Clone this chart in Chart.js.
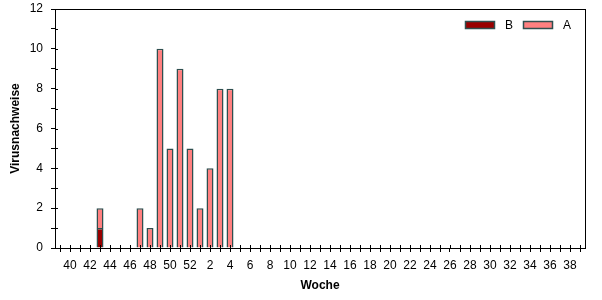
<!DOCTYPE html>
<html>
<head>
<meta charset="utf-8">
<script src="https://cdn.jsdelivr.net/npm/chart.js@4"></script>
<style>
  body { margin: 0; background: #fff; }
  canvas { display: block; }
</style>
</head>
<body>
<canvas id="chart" width="602" height="300"></canvas>
<script>
// Kalenderwochen 39 .. 52, 1 .. 39
const weeks = [39, 40, 41, 42, 43, 44, 45, 46, 47, 48, 49, 50, 51, 52,
    1, 2, 3, 4, 5, 6, 7, 8, 9, 10, 11, 12, 13, 14, 15, 16, 17, 18, 19, 20,
    21, 22, 23, 24, 25, 26, 27, 28, 29, 30, 31, 32, 33, 34, 35, 36, 37, 38, 39];

const seriesB = [null, null, null, null, 1, null, null, null, null, null, null, null, null, null,
    null, null, null, null, null, null, null, null, null, null, null, null, null, null, null, null,
    null, null, null, null, null, null, null, null, null, null, null, null, null, null, null, null,
    null, null, null, null, null, null, null];

const seriesA = [null, null, null, null, 1, null, null, null, 2, 1, 10, 5, 9, 5,
    2, 4, 8, 8, null, null, null, null, null, null, null, null, null, null, null, null,
    null, null, null, null, null, null, null, null, null, null, null, null, null, null, null, null,
    null, null, null, null, null, null, null];

const yTicks = [0, 2, 4, 6, 8, 10, 12];
const FONT = "'Liberation Sans', Arial, sans-serif";

// frame around plot and inward half of the tick marks
const frame = {
    id: "frame",
    afterDraw(chart) {
        const { ctx, chartArea: a, scales } = chart;
        ctx.save();
        ctx.strokeStyle = "#000";
        ctx.lineWidth = 1;
        ctx.strokeRect(Math.round(a.left) + 0.5, Math.round(a.top) + 0.5,
            Math.round(a.right - a.left), Math.round(a.bottom - a.top));
        ctx.beginPath();
        scales.x.ticks.forEach((t, i) => {
            const x = Math.round(scales.x.getPixelForTick(i)) + 0.5;
            ctx.moveTo(x, a.bottom);
            ctx.lineTo(x, a.bottom - 3);
        });
        scales.y.ticks.forEach((t, i) => {
            const y = Math.round(scales.y.getPixelForTick(i)) + 0.5;
            ctx.moveTo(a.left, y);
            ctx.lineTo(a.left + 3, y);
        });
        ctx.stroke();
        ctx.restore();
    }
};

// legend inside the plot, top right
const boxLegend = {
    id: "boxLegend",
    afterDraw(chart) {
        const { ctx, chartArea: a } = chart;
        const sets = chart.data.datasets;
        ctx.save();
        ctx.font = "12px " + FONT;
        ctx.textBaseline = "middle";
        let x = a.right - 120;
        const y = a.top + 12;
        sets.forEach((ds) => {
            ctx.fillStyle = ds.backgroundColor;
            ctx.fillRect(x, y, 30, 8);
            ctx.strokeStyle = "#2f4f4f";
            ctx.lineWidth = 1.5;
            ctx.strokeRect(x + 0.5, y + 0.5, 29, 7);
            ctx.fillStyle = "#000";
            ctx.fillText(ds.label, x + 40, y + 4.5);
            x += 58;
        });
        ctx.restore();
    }
};

new Chart(document.getElementById("chart"), {
    type: "bar",
    data: {
        labels: weeks,
        datasets: [
            { label: "B", data: seriesB, backgroundColor: "#990000", borderColor: "#2f4f4f", borderWidth: 1.5,
              barPercentage: 0.7, categoryPercentage: 1.0 },
            { label: "A", data: seriesA, backgroundColor: "#ff8080", borderColor: "#2f4f4f", borderWidth: 1.5,
              barPercentage: 0.7, categoryPercentage: 1.0 },
        ],
    },
    options: {
        responsive: false,
        animation: false,
        layout: { padding: { left: 0, right: 17, top: 9, bottom: 0 } },
        scales: {
            x: {
                stacked: true,
                offset: true,
                afterFit: (s) => { s.height = 52; s.paddingLeft = 0; s.paddingRight = 0; },
                grid: { drawOnChartArea: false, offset: false, tickLength: 4, color: "#000" },
                border: { color: "#000" },
                ticks: {
                    autoSkip: false, maxRotation: 0, padding: 6, color: "#000",
                    font: { family: FONT, size: 12 },
                    callback: function (v, i) { const w = weeks[i]; return w % 2 === 0 ? String(w) : ""; },
                },
                title: {
                    display: true, text: "Woche", color: "#000",
                    font: { family: FONT, size: 12, weight: "bold" },
                    padding: { top: 0, bottom: 7 },
                },
            },
            y: {
                stacked: true,
                min: 0,
                max: 12,
                afterFit: (s) => { s.width = 55; s.paddingTop = 0; s.paddingBottom = 0; },
                grid: { drawOnChartArea: false, tickLength: 4, color: "#000" },
                border: { color: "#000" },
                ticks: {
                    stepSize: 1, padding: 8, color: "#000",
                    font: { family: FONT, size: 12 },
                    callback: (v) => yTicks.includes(v) ? String(v) : "",
                },
                title: {
                    display: true, text: "Virusnachweise", color: "#000",
                    font: { family: FONT, size: 12, weight: "bold" },
                    padding: { top: 8, bottom: 0 },
                },
            },
        },
        plugins: {
            legend: { display: false },
            tooltip: { enabled: false },
        },
    },
    plugins: [frame, boxLegend],
});
</script>
</body>
</html>
